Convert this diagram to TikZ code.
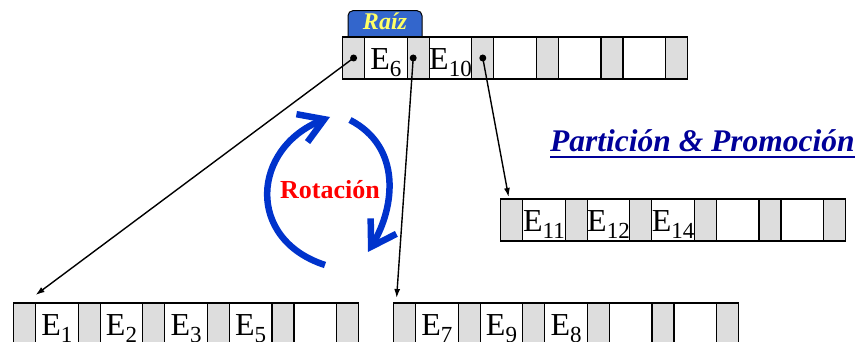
\documentclass[tikz,border=0pt]{standalone}
\usepackage{fontspec}
\setmainfont{Liberation Serif}
\usepackage{xcolor}
\usetikzlibrary{matrix,arrows.meta}

\definecolor{tabblue}{RGB}{51,102,204}
\definecolor{rotblue}{RGB}{0,51,204}
\definecolor{headblue}{RGB}{0,0,153}
\definecolor{raizyellow}{RGB}{255,255,102}
\definecolor{ptrgray}{RGB}{221,221,221}

\newcommand{\ent}[1]{E\raisebox{-7pt}{\fontsize{23}{23}\selectfont #1}}

\tikzset{
	cell/.style={draw, line width=1.2pt, inner sep=0pt, outer sep=0pt, minimum height=42pt, anchor=center},
	ptr/.style={cell, fill=ptrgray, minimum width=22pt},
	key/.style={cell, fill=white, minimum width=42.6pt, text height=24pt, text depth=0pt, font=\fontsize{32}{32}\selectfont},
	page/.style={matrix of nodes, nodes in empty cells, inner sep=0pt, outer sep=0pt, column sep=-1.2pt, anchor=west,
		every odd column/.style={nodes={ptr}}, every even column/.style={nodes={key}}},
	tab/.style={draw, line width=1pt, fill=tabblue, rounded corners=5pt, minimum width=74pt, minimum height=33pt,
		text=raizyellow, text height=16pt, text depth=11pt, font=\fontsize{24}{24}\selectfont\bfseries\itshape},
	dot/.style={circle, fill, inner sep=0pt, minimum size=7pt},
	link/.style={-{Latex[length=9pt,width=6pt]}, line width=1.4pt},
	rot/.style={rotblue, line width=6.5pt, -{Straight Barb[length=24pt,width=30pt]}},
	rotlabel/.style={text=red, inner sep=0pt, font=\fontsize{26}{26}\selectfont\bfseries},
	heading/.style={text=headblue, inner sep=0pt, font=\fontsize{31.5}{31.5}\selectfont\bfseries\itshape}
}

\begin{document}
\begin{tikzpicture}[x=1pt,y=1pt]
	\useasboundingbox (0,0) rectangle (861,342);
	%
	\node[tab] (raiz) at (385,314.5) {Raíz};
	%
	\matrix (root) [page] at (342,284) { & \ent{6} & & \ent{10} & & & & & & & \\ };
	\matrix (split) [page] at (500,122) { & \ent{11} & & \ent{12} & & \ent{14} & & & & & \\ };
	\matrix (lleaf) [page] at (13,18) { & \ent{1} & & \ent{2} & & \ent{3} & & \ent{5} & & & \\ };
	\matrix (rleaf) [page] at (393,18) { & \ent{7} & & \ent{9} & & \ent{8} & & & & & \\ };
	%
	\node[dot] (p1) at (root-1-1) {};
	\node[dot] (p2) at ([xshift=-5pt]root-1-3.center) {};
	\node[dot] (p3) at (root-1-5) {};
	%
	\draw[link] (p1.center) -- ([yshift=8pt]lleaf-1-1.north east);
	\draw[link] (p2.center) -- ([xshift=3pt,yshift=5pt]rleaf-1-1.north west);
	\draw[link] (p3.center) -- ([xshift=8pt,yshift=2pt]split-1-1.north west);
	%
	\draw[rot] (325,77) .. controls (245,103) and (252,194) .. (330,225);
	\draw[rot] (350,222) .. controls (402,195) and (395,135) .. (368,90);
	\node[rotlabel] (rotlbl) at (330,152) {Rotación};
	%
	\node[heading, anchor=base west] (part) at (550,190) {Partición \& Promoción};
	\draw[headblue, line width=2.5pt] ([yshift=-5pt]part.base west) -- ([yshift=-5pt]part.base east);
\end{tikzpicture}
\end{document}
